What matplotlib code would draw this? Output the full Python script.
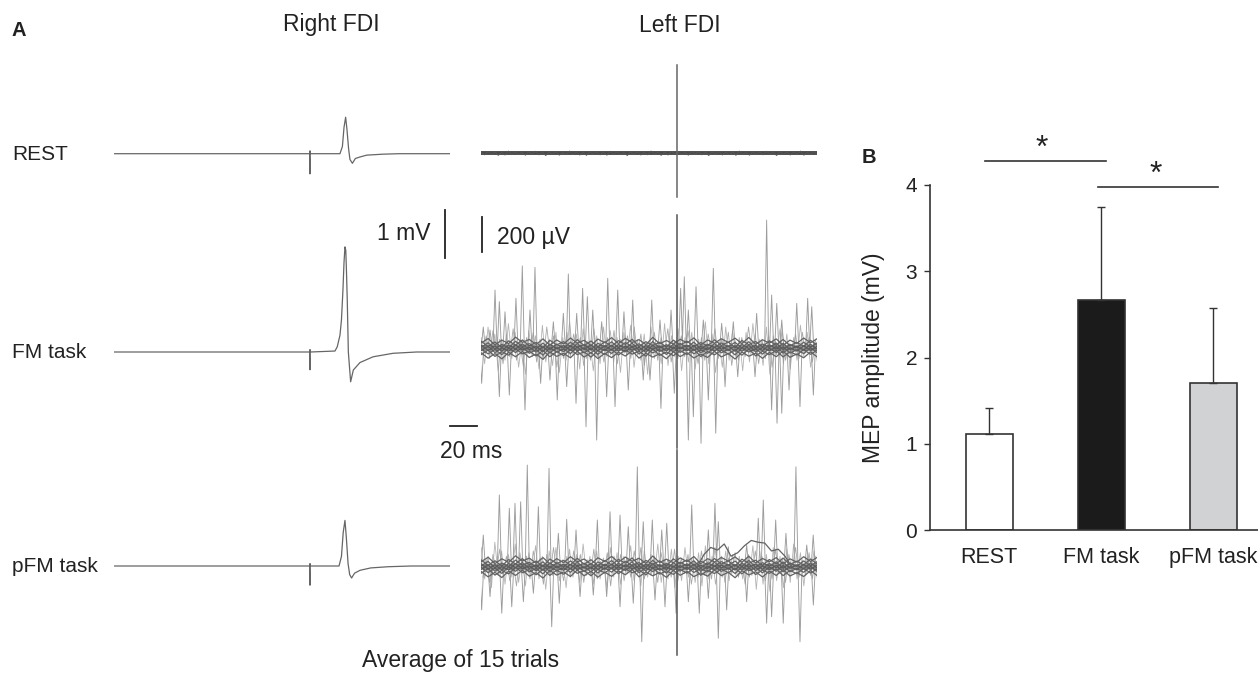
import numpy as np
import matplotlib
matplotlib.use("Agg")
import matplotlib.pyplot as plt

plt.rcParams['font.family'] = ['Liberation Sans', 'DejaVu Sans']

W, H = 1258, 674

# ---- panel B data ----
conditions = ["REST", "FM task", "pFM task"]
mep_mean = [1.11, 2.67, 1.71]
mep_sd = [0.31, 1.08, 0.86]
bar_colors = ["white", "#1b1b1b", "#d1d2d4"]

# ---- right FDI averaged MEPs (time in ms from TMS, amplitude in mV) ----
rest_r_t = [-145, -0.3, 0, 0, 0.3, 22.2, 24.0, 25.2, 26.4, 27.4, 28.6, 29.6, 31.4, 33.6, 36.8, 42, 54, 66, 104]
rest_r_v = [0, 0, -0.42, 0.06, 0, 0, 0.15, 0.55, 0.76, 0.5, 0.1, -0.12, -0.2, -0.1, -0.07, -0.03, -0.01, 0, 0]
fm_r_t = [-145, -0.3, 0, 0, 0.3, 18.5, 20.2, 22.2, 23.3, 24.4, 25.2, 25.9, 26.5, 27.0, 27.6, 28.4,
          30.1, 32.1, 37.0, 46.7, 61.5, 79, 104]
fm_r_v = [0, 0, -0.37, 0.05, 0, 0.02, 0.11, 0.35, 0.67, 1.29, 1.87, 2.19, 2.12, 1.7, 1.08, 0,
          -0.62, -0.375, -0.22, -0.10, -0.027, 0, 0]
pfm_r_t = [-145, -0.3, 0, 0, 0.3, 21.5, 23.3, 24.6, 25.9, 26.9, 28.2, 29.4, 30.8, 33.0, 37, 45, 58, 75, 104]
pfm_r_v = [0, 0, -0.4, 0.05, 0, 0, 0.2, 0.7, 0.95, 0.6, 0.05, -0.18, -0.25, -0.15, -0.09, -0.04, -0.015, 0, 0]

# ---- left FDI, 15 trials overlaid (time in ms, amplitude in uV) ----
# TMS artefact extent (min, max)
rest_l_art = (-251, 503)
fm_l_art = (-571, 760)
pfm_l_art = (-505, 667)

# large EMG bursts
fm_up_t = [-143.5, -138.5, -134.8, -131.6, -127.4, -119.3, -114.6, -108.9, -105.2, -91.6, -84.2, -80.5,
           -74.3, -69.9, -66.4, -62.4, -55.8, -51.3, -43.9, -39.3, -32.8, -18.7, -12.6, -4.4, 2.7, 5.4,
           8.4, 14.1, 19.5, 26.9, 33.1, 41.7, 59.0, 66.4, 70.1, 73.9, 77.6, 88.7, 96.8, 99.8]
fm_up_v = [120, 103, 331, 265, 207, 284, 469, 217, 461, 150, 198, 423, 198, 341, 293, 217, 150, 398,
           331, 207, 274, 274, 160, 217, 341, 407, 217, 350, 160, 455, 141, 150, 198, 731, 303, 255,
           160, 255, 284, 236]
fm_dn_t = [-144.7, -131.6, -124.2, -112.6, -101.0, -94.1, -88.7, -81.7, -74.8, -67.4, -59.5, -52.1,
           -45.9, -36.1, -25.0, -20.0, -11.9, -2.0, 8.4, 12.1, 17.8, 23.2, 28.7, 35.6, 45.0, 57.8,
           70.1, 74.1, 77.6, 83.0, 91.1, 101.0]
fm_dn_v = [-202, -278, -269, -354, -202, -183, -297, -221, -316, -450, -526, -278, -335, -240, -183,
           -183, -345, -259, -526, -393, -545, -297, -487, -221, -164, -164, -354, -430, -373, -240,
           -335, -269]

pfm_up_t = [-143.5, -131.6, -124.2, -120.0, -115.8, -110.9, -102.7, -94.8, -87.9, -81.7, -74.8, -59.0,
            -49.6, -42.2, -36.1, -29.4, -25.0, -18.3, -11.3, -7.6, 10.9, 23.2, 28.1, 30.6, 38.0, 51.6,
            60.2, 63.9, 73.1, 80.7, 88.1, 96.1, 100.9]
pfm_up_v = [181, 410, 334, 362, 371, 581, 343, 562, 191, 271, 210, 267, 314, 295, 229, 571, 257, 267,
            210, 248, 353, 210, 362, 257, 114, 124, 277, 381, 267, 191, 571, 124, 181]
pfm_dn_t = [-144.7, -138.5, -129.8, -122.4, -113.8, -106.4, -92.8, -87.2, -71.8, -62.0, -52.1, -42.2,
            -32.4, -26.1, -16.3, -8.9, -0.7, 8.4, 16.5, 23.2, 30.6, 36.8, 51.6, 66.4, 70.1, 78.7,
            91.1, 101.0]
pfm_dn_v = [-247, -171, -266, -229, -200, -152, -343, -209, -171, -162, -171, -229, -209, -429, -190,
            -229, -266, -200, -266, -181, -409, -247, -200, -323, -286, -323, -429, -219]

# smaller activity between bursts (two trial sets, every 2.5 ms)
fm_grass = [60, -90, 120, -40, 80, -130, 50, -70, 140, -60, 90, -110, 40, -150, 100, -50, 70, -120, 130, -80,
            50, -100, 90, -140, 60, -70, 150, -40, 80, -120, 110, -60, 40, -130, 70, -90, 120, -50, 100, -80,
            60, -140, 90, -40, 130, -110, 50, -70, 80, -150, 120, -60, 40, -90, 140, -100, 70, -50, 110, -130,
            60, -80, 90, -120, 50, -60, 150, -90, 80, -140, 40, -110, 120, -70, 100, -50, 60, -130, 90, -80,
            140, -60, 50, -100, 120, -150, 70, -40, 110, -90, 80, -120, 60, -70, 130, -50, 90, -110, 40, -80]
fm_grass2 = [-40, 70, -60, 100, -30, 50, -90, 80, -50, 110, -70, 40, -100, 60, -30, 90, -80, 50, -60, 120,
             -40, 70, -110, 30, -60, 90, -50, 80, -30, 60, -100, 40, -70, 110, -50, 30, -80, 60, -40, 100,
             -90, 50, -30, 70, -60, 120, -40, 80, -100, 30, -50, 90, -70, 60, -30, 110, -80, 40, -60, 70,
             -50, 100, -40, 30, -90, 60, -70, 80, -30, 110, -60, 50, -40, 90, -100, 40, -70, 60, -50, 120,
             -30, 80, -90, 50, -60, 70, -110, 40, -40, 100, -70, 30, -50, 80, -60, 90, -30, 60, -80, 50]
pfm_grass = [110, -70, 60, -120, 140, -50, 90, -100, 70, -60, 130, -90, 50, -110, 80, -40, 120, -70, 60, -130,
             90, -50, 110, -80, 40, -120, 100, -60, 70, -90, 130, -50, 60, -100, 90, -70, 50, -120, 110, -60,
             80, -100, 60, -40, 120, -80, 50, -110, 90, -60, 70, -50, 130, -90, 40, -70, 100, -120, 60, -80,
             110, -60, 50, -90, 80, -110, 120, -70, 60, -100, 40, -60, 90, -80, 70, -50, 60, -70, 50, -60,
             120, -130, 90, -100, 70, -140, 110, -80, 60, -120, 100, -90, 130, -70, 80, -110, 60, -50, 90, -70]
pfm_grass2 = [-60, 40, -90, 70, -30, 100, -50, 60, -80, 30, -110, 80, -40, 60, -70, 90, -30, 50, -100, 70,
              -50, 110, -40, 30, -80, 60, -60, 90, -30, 70, -90, 40, -50, 100, -70, 30, -40, 80, -110, 60,
              -30, 70, -80, 50, -60, 90, -40, 110, -70, 30, -50, 60, -90, 80, -30, 40, -60, 100, -80, 50,
              -40, 70, -100, 30, -60, 90, -50, 40, -70, 110, -30, 60, -90, 50, -40, 80, -60, 30, -100, 70,
              -50, 90, -30, 60, -80, 40, -70, 100, -40, 50, -90, 70, -30, 110, -60, 40, -50, 80, -70, 60]
rest_core = [6, -8, 10, -5, 7, -11, 4, -9, 12, -6, 8, -7, 5, -10, 9, -4, 11, -8, 6, -12,
             7, -5, 9, -10, 4, -7, 12, -6, 8, -9, 5, -11, 10, -4, 7, -8, 6, -10, 11, -5,
             9, -7, 4, -12, 8, -6, 10, -9, 5, -8, 12, -4, 7, -11, 6, -9, 10, -5, 8, -7,
             4, -10, 11, -6, 9, -8, 5, -12, 7, -4, 10, -9, 6, -7, 8, -11, 12, -5, 4, -10,
             9, -6, 7, -8, 11, -4, 5, -12, 10, -7, 6, -9, 8, -5, 12, -10, 4, -6, 9, -8]
# trial baselines that make the dark core band
core_wiggle = [12, -18, 8, -22, 15, -10, 20, -14, 6, -25, 18, -8, 10, -16, 22, -12, 14, -20, 9, -15,
               16, -6, 24, -18, 10, -12, 7, -21, 19, -9, 13, -17, 5, -14, 21, -11, 8, -23, 17, -7,
               11, -19, 15, -10, 23, -13, 6, -16, 18, -12]
core_wiggle2 = [-9, 16, -20, 7, -13, 24, -6, 11, -18, 14, -22, 8, -15, 19, -10, 6, -24, 13, -8, 21,
                -12, 17, -7, 10, -19, 23, -14, 5, -16, 12, -9, 20, -21, 8, -11, 15, -6, 18, -13, 22,
                -17, 9, -10, 14, -23, 7, -12, 19, -8, 16]
core_offsets = [-40, -28, -16, -6, 4, 14, 26, 38]
# slow drifts seen in a few pFM trials
pfm_drift_t = [15, 20, 25, 30, 35, 40, 45, 50, 55, 60, 65, 70, 75, 80, 85]
pfm_drift_v = [0, 70, 110, 95, 130, 60, 80, 120, 150, 140, 135, 90, 100, 60, 0]

T0, T1 = -145, 104
MS_PX, MV_PX, UV_PX = 1.35, 48.0, 0.175
INK = '#222222'

fig = plt.figure(figsize=(W / 100, H / 100), dpi=100)


def px_axes(left, top, width, height):
    ax = fig.add_axes([left / W, 1 - (top + height) / H, width / W, height / H])
    ax.patch.set_alpha(0)
    ax.axis('off')
    return ax


def right_axes(base):
    ax = px_axes(310 + T0 * MS_PX, base - 3.2 * MV_PX, (T1 - T0) * MS_PX, 4.4 * MV_PX)
    ax.set_xlim(T0, T1)
    ax.set_ylim(-1.2, 3.2)
    return ax


def left_axes(base):
    ax = px_axes(677 + T0 * MS_PX, base - 800 * UV_PX, (T1 - T0) * MS_PX, 1550 * UV_PX)
    ax.set_xlim(T0, T1)
    ax.set_ylim(-750, 800)
    return ax


def spikes(ax, ts, vs, half=1.5):
    xs, ys = [], []
    for t, v in zip(ts, vs):
        xs += [t - half, t, t + half, np.nan]
        ys += [0, v, 0, np.nan]
    ax.plot(xs, ys, color='#9c9c9c', lw=0.65)


def emg_row(ax, grass, grass2, up_t, up_v, dn_t, dn_v, art):
    ax.plot(np.linspace(T0, T1, len(grass)), grass, color='#b4b4b4', lw=0.6)
    ax.plot(np.linspace(T0 + 1.2, T1 - 1.2, len(grass2)), grass2, color='#a8a8a8', lw=0.6)
    spikes(ax, up_t, up_v)
    spikes(ax, dn_t, dn_v)
    c = np.linspace(T0, T1, len(core_wiggle))
    for i, off in enumerate(core_offsets):
        w = core_wiggle if i % 2 == 0 else core_wiggle2
        ax.plot(c, np.array(w) + off, color='#626262', lw=0.9)
    ax.plot([T0, T1], [0, 0], color='#555555', lw=4.0, alpha=0.55)
    ax.plot([0, 0], art, color='#555555', lw=1.1)


# ---- panel A: right FDI ----
ax_rr = right_axes(153.7)
ax_rr.plot(rest_r_t, rest_r_v, color='#666666', lw=0.9)
ax_fr = right_axes(352)
ax_fr.plot(fm_r_t, fm_r_v, color='#666666', lw=0.9)
ax_pr = right_axes(566)
ax_pr.plot(pfm_r_t, pfm_r_v, color='#666666', lw=0.9)

# scale bars
ax_fr.plot([100, 100], [1.96, 2.96], color=INK, lw=1.3, clip_on=False)
ax_fr.text(88.9, 2.46, "1 mV", ha='right', va='center', fontsize=16.5, color=INK)
ax_fr.plot([103.7, 123.7], [-1.54, -1.54], color=INK, lw=1.3, clip_on=False)
ax_fr.text(119.3, -2.08, "20 ms", ha='center', va='center', fontsize=16.5, color=INK)

# ---- panel A: left FDI ----
ax_rl = left_axes(153.3)
ax_rl.plot([T0, T1], [0, 0], color='#4a4a4a', lw=2.8)
ax_rl.plot(np.linspace(T0, T1, len(rest_core)), rest_core, color='#555555', lw=0.8)
ax_rl.plot([0, 0], rest_l_art, color='#666666', lw=1.1)

ax_fl = left_axes(348)
emg_row(ax_fl, fm_grass, fm_grass2, fm_up_t, fm_up_v, fm_dn_t, fm_dn_v, fm_l_art)
ax_fl.plot([-144.4, -144.4], [549, 749], color=INK, lw=1.3, clip_on=False)
ax_fl.text(-133.3, 631, "200 µV", ha='left', va='center', fontsize=16.5, color=INK)

ax_pl = left_axes(566.7)
emg_row(ax_pl, pfm_grass, pfm_grass2, pfm_up_t, pfm_up_v, pfm_dn_t, pfm_dn_v, pfm_l_art)
ax_pl.plot(pfm_drift_t, pfm_drift_v, color='#626262', lw=0.9)

# panel A labels
fig.text(12 / W, 1 - 30 / H, "A", fontsize=14.5, fontweight='bold', ha='left', va='center', color=INK)
fig.text(331 / W, 1 - 25 / H, "Right FDI", fontsize=16.5, ha='center', va='center', color=INK)
fig.text(680 / W, 1 - 25 / H, "Left FDI", fontsize=16.5, ha='center', va='center', color=INK)
for lab, yy in zip(conditions, [154, 352, 566]):
    fig.text(12 / W, 1 - yy / H, lab, fontsize=15, ha='left', va='center', color=INK)
fig.text(461 / W, 1 - 661 / H, "Average of 15 trials", fontsize=16.5, ha='center', va='center', color=INK)

# ---- panel B: bar chart ----
axb = fig.add_axes([930 / W, 1 - 530 / H, 328 / W, 345 / H])
axb.patch.set_alpha(0)
x = np.arange(len(conditions))
axb.bar(x, mep_mean, width=0.42, color=bar_colors, edgecolor='#333333', linewidth=1.2,
        yerr=[np.zeros(len(x)), mep_sd], capsize=3.2,
        error_kw=dict(ecolor='#333333', elinewidth=1.0, capthick=1.0))
axb.set_xlim(-0.527, 2.40)
axb.set_ylim(0, 4)
axb.set_yticks([0, 1, 2, 3, 4])
axb.set_xticks(x)
axb.set_xticklabels(conditions, fontsize=15.5, color=INK)
axb.tick_params(axis='y', direction='out', length=4.3, width=1.0, colors='#333333', labelsize=15,
                labelcolor=INK, pad=5)
axb.tick_params(axis='x', length=0, pad=12)
for s in ['top', 'right']:
    axb.spines[s].set_visible(False)
for s in ['left', 'bottom']:
    axb.spines[s].set_color('#333333')
    axb.spines[s].set_linewidth(1.2)
axb.set_ylabel("MEP amplitude (mV)", fontsize=16.5, color=INK)
axb.yaxis.set_label_coords(-0.137, 0.5)

# significance
axb.plot([-0.036, 1.045], [4.28, 4.28], color='#333333', lw=1.2, clip_on=False)
axb.plot([0.973, 2.045], [3.98, 3.98], color='#333333', lw=1.2, clip_on=False)
axb.text(0.47, 4.42, "*", ha='center', va='center', fontsize=23, color=INK)
axb.text(1.49, 4.12, "*", ha='center', va='center', fontsize=23, color=INK)
fig.text(869 / W, 1 - 157.5 / H, "B", fontsize=14.5, fontweight='bold', ha='center', va='center', color=INK)

fig.savefig("out.png", dpi=100)
